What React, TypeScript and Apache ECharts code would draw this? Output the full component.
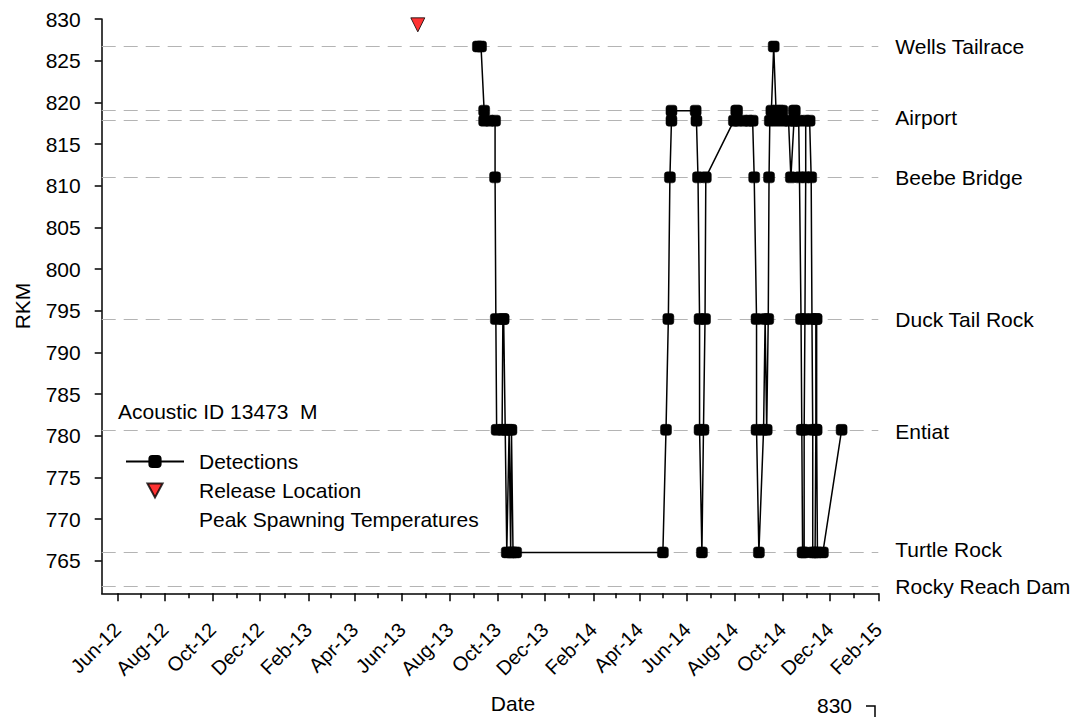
import { useEffect, useRef } from "react";
import * as echarts from "echarts";

const FONT = "'Liberation Sans', Arial, sans-serif";

// Y axis ticks (RKM)
const yTickValues = [765, 770, 775, 780, 785, 790, 795, 800, 805, 810, 815, 820, 825, 830];
const yMin = 761.09;
const yMax = 830;

// X axis (dates)
const xMin = "2012-05-12";
const xMax = "2015-02-01";
const xLabelDates = [
  "2012-06-01", "2012-08-01", "2012-10-01", "2012-12-01", "2013-02-01", "2013-04-01",
  "2013-06-01", "2013-08-01", "2013-10-01", "2013-12-01", "2014-02-01", "2014-04-01",
  "2014-06-01", "2014-08-01", "2014-10-01", "2014-12-01", "2015-02-01",
];
const xMinorDates = [
  "2012-07-01", "2012-09-01", "2012-11-01", "2013-01-01", "2013-03-01", "2013-05-01",
  "2013-07-01", "2013-09-01", "2013-11-01", "2014-01-01", "2014-03-01", "2014-05-01",
  "2014-07-01", "2014-09-01", "2014-11-01", "2015-01-01",
];
const monthNames = ["Jan", "Feb", "Mar", "Apr", "May", "Jun", "Jul", "Aug", "Sep", "Oct", "Nov", "Dec"];

// Receiver locations (dashed reference lines)
const locationRkm = [826.7, 819.0, 817.8, 811.0, 794.0, 780.7, 766.0, 761.9];
// Right-hand location labels
const labelNames = ["Wells Tailrace", "Airport", "Beebe Bridge", "Duck Tail Rock", "Entiat", "Turtle Rock", "Rocky Reach Dam"];
const labelRkm = [826.7, 818.2, 811.0, 794.0, 780.5, 766.3, 761.9];

// Detections
const detectionDates = [
  "2013-09-06", "2013-09-10", "2013-09-14", "2013-09-14", "2013-09-21", "2013-09-28", "2013-09-28",
  "2013-09-29", "2013-09-30", "2013-10-07", "2013-10-08", "2013-10-09", "2013-10-11", "2013-10-13",
  "2013-10-16", "2013-10-18", "2013-10-19", "2013-10-21", "2013-10-25",
  "2014-05-01", "2014-05-05", "2014-05-08", "2014-05-10", "2014-05-12", "2014-05-12", "2014-06-12",
  "2014-06-13", "2014-06-15", "2014-06-17", "2014-06-17", "2014-06-20", "2014-06-22", "2014-06-24",
  "2014-06-25", "2014-07-31", "2014-08-03", "2014-08-04", "2014-08-05", "2014-08-13", "2014-08-19",
  "2014-08-24", "2014-08-26", "2014-08-29", "2014-08-29", "2014-09-01", "2014-09-07", "2014-09-09",
  "2014-09-11", "2014-09-13", "2014-09-14", "2014-09-15", "2014-09-17", "2014-09-20", "2014-09-23",
  "2014-09-24", "2014-09-28", "2014-10-01", "2014-10-03", "2014-10-09", "2014-10-12", "2014-10-16",
  "2014-10-16", "2014-10-17", "2014-10-18", "2014-10-22", "2014-10-23", "2014-10-25", "2014-10-26",
  "2014-10-27", "2014-10-29", "2014-10-29", "2014-10-30", "2014-10-31", "2014-10-31", "2014-11-05",
  "2014-11-07", "2014-11-08", "2014-11-09", "2014-11-09", "2014-11-12", "2014-11-13", "2014-11-13",
  "2014-11-14", "2014-11-14", "2014-11-15", "2014-11-22", "2014-12-16",
];
const detectionRkm = [
  826.7, 826.7, 819.0, 817.8, 817.8, 817.8, 811.0,
  794.0, 780.7, 780.7, 794.0, 794.0, 780.7, 766.0,
  780.7, 766.0, 780.7, 766.0, 766.0,
  766.0, 780.7, 794.0, 811.0, 817.8, 819.0, 819.0,
  817.8, 811.0, 794.0, 780.7, 766.0, 780.7, 794.0,
  811.0, 817.8, 819.0, 819.0, 817.8, 817.8, 817.8,
  817.8, 811.0, 794.0, 780.7, 766.0, 780.7, 794.0,
  780.7, 794.0, 811.0, 817.8, 819.0, 826.7, 819.0,
  817.8, 819.0, 819.0, 817.8, 817.8, 811.0, 817.8,
  819.0, 819.0, 817.8, 817.8, 811.0, 794.0, 780.7,
  766.0, 766.0, 780.7, 794.0, 811.0, 817.8, 817.8,
  811.0, 794.0, 780.7, 766.0, 766.0, 780.7, 794.0,
  794.0, 780.7, 766.0, 766.0, 780.7,
];

// Release location
const releaseDates = ["2013-06-21"];
const releaseRkm = [829.3];

const DOWN_TRIANGLE = "path://M0,0L14,0L7,13Z";

function toTs(s: string): number {
  const [y, m, d] = s.split("-").map(Number);
  return new Date(y, m - 1, d).getTime();
}

export default function App() {
  const ref = useRef<HTMLDivElement>(null);

  useEffect(() => {
    if (!ref.current) return;
    const chart = echarts.init(ref.current, undefined, { renderer: "svg" });

    const detections = detectionDates.map((d, i) => [toTs(d), detectionRkm[i]]);
    const release = releaseDates.map((d, i) => [toTs(d), releaseRkm[i]]);

    const option: any = {
      animation: false,
      backgroundColor: "#ffffff",
      textStyle: { fontFamily: FONT, color: "#000" },
      title: {
        text: "Acoustic ID 13473  M",
        left: 118,
        top: 401,
        padding: 0,
        textStyle: { fontFamily: FONT, fontSize: 21, fontWeight: "normal", color: "#000" },
      },
      legend: {
        orient: "vertical",
        left: 125,
        top: 451,
        padding: 0,
        itemGap: 8,
        itemWidth: 58,
        itemHeight: 14,
        selectedMode: false,
        symbolKeepAspect: true,
        textStyle: { fontFamily: FONT, fontSize: 21, color: "#000", padding: [0, 0, 0, 10], lineHeight: 21 },
        data: [
          { name: "Detections" },
          { name: "Release Location", icon: DOWN_TRIANGLE },
          { name: "Peak Spawning Temperatures", icon: "none" },
        ],
      },
      grid: { left: 101.7, top: 19, right: 194.7, bottom: 123.7, containLabel: false, outerBoundsMode: "none" },
      xAxis: [
        {
          type: "value",
          min: toTs(xMin),
          max: toTs(xMax),
          splitLine: { show: false },
          axisLine: { show: true, lineStyle: { color: "#000", width: 1.5 } },
          axisTick: {
            show: true,
            length: 8,
            lineStyle: { color: "#000", width: 1.5 },
            customValues: xLabelDates.map(toTs),
          },
          axisLabel: {
            show: true,
            rotate: 45,
            margin: 33,
            fontSize: 20,
            fontFamily: FONT,
            color: "#000",
            customValues: xLabelDates.map(toTs),
            formatter: (v: number) => {
              const d = new Date(v);
              return monthNames[d.getMonth()] + "-" + String(d.getFullYear()).slice(2);
            },
          },
        },
        {
          type: "value",
          position: "bottom",
          min: toTs(xMin),
          max: toTs(xMax),
          splitLine: { show: false },
          axisLine: { show: false },
          axisLabel: { show: false },
          axisTick: {
            show: true,
            length: 5,
            lineStyle: { color: "#000", width: 1.5 },
            customValues: xMinorDates.map(toTs),
          },
        },
      ],
      yAxis: [
        {
          type: "value",
          min: yMin,
          max: yMax,
          splitLine: { show: false },
          axisLine: { show: true, lineStyle: { color: "#000", width: 1.5 } },
          axisTick: { show: true, length: 7, lineStyle: { color: "#000", width: 1.5 }, customValues: yTickValues },
          axisLabel: {
            show: true,
            margin: 21,
            fontSize: 21,
            fontFamily: FONT,
            color: "#000",
            customValues: yTickValues,
            formatter: (v: number) => String(Math.round(v)),
          },
        },
        {
          type: "value",
          position: "right",
          min: yMin,
          max: yMax,
          splitLine: { show: false },
          axisLine: { show: false },
          axisTick: { show: false },
          axisLabel: {
            show: true,
            margin: 17,
            fontSize: 21,
            fontFamily: FONT,
            color: "#000",
            customValues: labelRkm,
            formatter: (v: number) => {
              const i = labelRkm.findIndex((r) => Math.abs(r - v) < 0.01);
              return i >= 0 ? labelNames[i] : "";
            },
          },
        },
      ],
      graphic: [
        {
          type: "text",
          x: 22,
          y: 306,
          rotation: Math.PI / 2,
          style: { text: "RKM", fontFamily: FONT, fontSize: 21, fill: "#000", align: "center", verticalAlign: "middle" },
        },
        {
          type: "text",
          x: 513,
          y: 703,
          style: { text: "Date", fontFamily: FONT, fontSize: 21, fill: "#000", align: "center", verticalAlign: "middle" },
        },
        {
          type: "text",
          x: 817,
          y: 705,
          style: { text: "830", fontFamily: FONT, fontSize: 21, fill: "#000", align: "left", verticalAlign: "middle" },
        },
        {
          type: "polyline",
          shape: { points: [[866, 706], [875, 706], [875, 717]] },
          style: { stroke: "#000", lineWidth: 1.5, fill: "none" },
        },
      ],
      series: [
        {
          name: "locations",
          type: "line",
          data: [],
          silent: true,
          z: 1,
          markLine: {
            silent: true,
            z: 1,
            symbol: ["none", "none"],
            label: { show: false },
            lineStyle: { color: "#b4b4b4", type: [14, 8], width: 1.2 },
            data: locationRkm.map((v) => ({ yAxis: v })),
          },
        },
        {
          name: "Detections",
          type: "line",
          data: detections,
          symbol: "roundRect",
          symbolSize: 11,
          clip: false,
          z: 3,
          itemStyle: { color: "#000", borderColor: "#000", borderWidth: 0.5 },
          lineStyle: { color: "#000", width: 1.5 },
        },
        {
          name: "Release Location",
          type: "scatter",
          data: release,
          symbol: DOWN_TRIANGLE,
          symbolSize: 14,
          clip: false,
          z: 4,
          itemStyle: { color: "#ff0000", borderColor: "#000", borderWidth: 1 },
        },
        {
          name: "Peak Spawning Temperatures",
          type: "line",
          data: [],
          symbol: "none",
          lineStyle: { opacity: 0 },
        },
      ],
    };

    chart.setOption(option);
    return () => chart.dispose();
  }, []);

  return (
    <div
      ref={ref}
      style={{ position: "fixed", left: 0, top: 0, width: 1073, height: 717, background: "#fff" }}
    />
  );
}
